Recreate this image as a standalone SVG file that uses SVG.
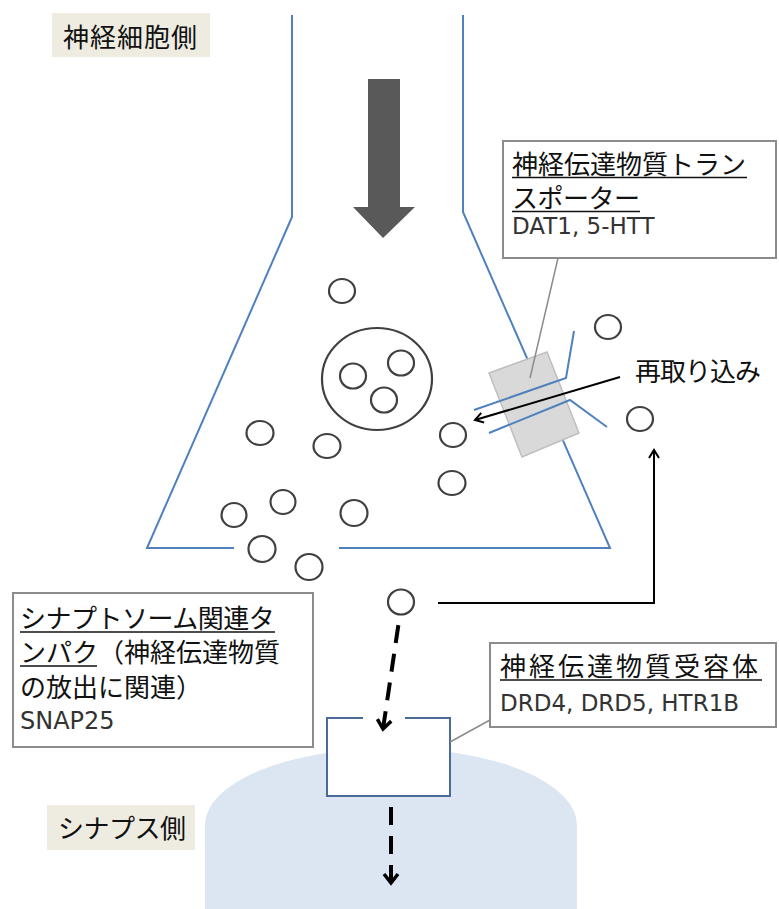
<svg xmlns="http://www.w3.org/2000/svg" width="779" height="909" viewBox="0 0 779 909">
  <style>
    .jp { font-family: "Noto Sans CJK JP", "Noto Sans CJK SC", sans-serif; font-size: 26px; fill: #111; }
    .gene { font-family: "DejaVu Sans", sans-serif; font-size: 23px; fill: #333; }
    .membrane { fill: none; stroke: #4f81bd; stroke-width: 2; }
    .vesicle { fill: none; stroke: #404040; stroke-width: 2.2; }
    .callout { fill: #fff; stroke: #8c8c8c; stroke-width: 2; }
    .leader { fill: none; stroke: #8c8c8c; stroke-width: 1.5; }
    .uline { stroke: #111; stroke-width: 1.6; }
    .side { fill: #eeece1; }
    .flow { fill: none; stroke: #000; stroke-width: 4; stroke-dasharray: 18 11; }
    .thin { fill: none; stroke: #000; stroke-width: 2; }
  </style>
  <defs>
    <marker id="headBold" markerUnits="userSpaceOnUse" markerWidth="24" markerHeight="24" viewBox="-12 -12 24 24" refX="0" refY="0" orient="auto-start-reverse">
      <path d="M-9,-7 L0,0 L-9,7" fill="none" stroke="#000" stroke-width="3.5" stroke-dasharray="none"/>
    </marker>
    <marker id="headThin" markerUnits="userSpaceOnUse" markerWidth="20" markerHeight="20" viewBox="-10 -10 20 20" refX="0" refY="0" orient="auto">
      <path d="M-8,-5 L0,0 L-8,5" fill="none" stroke="#000" stroke-width="2"/>
    </marker>
  </defs>

  <!-- postsynaptic side -->
  <g id="postsynapse">
    <path d="M205,909 L205,825 A186,77 0 0 1 577,825 L577,909 Z" fill="#dce6f2"/>
  </g>

  <!-- presynaptic neuron terminal (flask outline) -->
  <g id="neuron">
    <path class="membrane" d="M292,15 L292,217 L147,548 L234,548"/>
    <path class="membrane" d="M339,548 L610,548 L463,212 L463,15"/>
  </g>

  <!-- transmission direction -->
  <g id="flow-arrow">
    <path d="M368,79 H400 V207 H415 L383,238 L353,207 H368 Z" fill="#595959"/>
  </g>

  <!-- synaptic vesicle with contents -->
  <g id="vesicle-pool">
    <ellipse class="vesicle" cx="377" cy="379" rx="55" ry="51"/>
    <ellipse class="vesicle" cx="353" cy="376" rx="13" ry="12.5"/>
    <ellipse class="vesicle" cx="401" cy="363" rx="13" ry="12.5"/>
    <ellipse class="vesicle" cx="384" cy="400" rx="13" ry="12.5"/>
  </g>

  <!-- free transmitter molecules -->
  <g id="transmitters">
    <ellipse class="vesicle" cx="342" cy="291" rx="13" ry="12"/>
    <ellipse class="vesicle" cx="608" cy="327" rx="13" ry="12"/>
    <ellipse class="vesicle" cx="640" cy="419" rx="13" ry="12"/>
    <ellipse class="vesicle" cx="260" cy="433" rx="13.5" ry="12"/>
    <ellipse class="vesicle" cx="327" cy="446" rx="13.5" ry="12"/>
    <ellipse class="vesicle" cx="453" cy="435" rx="13" ry="12"/>
    <ellipse class="vesicle" cx="452" cy="483" rx="13.5" ry="12"/>
    <ellipse class="vesicle" cx="283" cy="502" rx="12.5" ry="12"/>
    <ellipse class="vesicle" cx="234" cy="515" rx="12.5" ry="12"/>
    <ellipse class="vesicle" cx="354" cy="513" rx="13.5" ry="13"/>
    <ellipse class="vesicle" cx="262" cy="549" rx="13.5" ry="13"/>
    <ellipse class="vesicle" cx="309" cy="567" rx="13.5" ry="13"/>
    <ellipse class="vesicle" cx="401" cy="602" rx="13" ry="12.5"/>
  </g>

  <!-- transporter protein in membrane -->
  <g id="transporter">
    <polygon points="489,373 547,352 579,433 522,457" fill="#d9d9d9" stroke="#bfbfbf" stroke-width="1.5"/>
    <path class="membrane" d="M574,331 L566,378 L474,410"/>
    <path class="membrane" d="M489,433 L570,400 L607,427"/>
  </g>

  <!-- receptor -->
  <g id="receptor">
    <path d="M363,718 H327 V796 H450 V718 H405" fill="#fff" stroke="#4a6b99" stroke-width="2"/>
    <rect x="363" y="716" width="42" height="5" fill="#fff"/>
  </g>

  <!-- connectors -->
  <g id="connectors">
    <path class="flow" d="M383,729 L400,614" marker-start="url(#headBold)"/>
    <path class="flow" d="M391,883 L391,797" marker-start="url(#headBold)"/>
    <path class="thin" d="M620,377 L475,420" marker-end="url(#headThin)"/>
    <path class="thin" d="M438,603 H654 V450" marker-end="url(#headThin)"/>
    <path class="leader" d="M558,258 L530,378"/>
    <path class="leader" d="M450,742 L490,720"/>
  </g>

  <!-- labels -->
  <g id="label-neuron">
    <rect class="side" x="52" y="13" width="158" height="44"/>
    <text class="jp" x="63" y="47" style="letter-spacing:1px">神経細胞側</text>
  </g>

  <g id="label-synapse">
    <rect class="side" x="47" y="805" width="148" height="45"/>
    <text class="jp" x="58" y="838" style="letter-spacing:-0.5px">シナプス側</text>
  </g>

  <g id="label-reuptake">
    <text class="jp" x="635" y="381" style="letter-spacing:-1px">再取り込み</text>
  </g>

  <g id="callout-transporter">
    <rect class="callout" x="503" y="141" width="273" height="117"/>
    <text class="jp" x="512" y="174">神経伝達物質トラン</text>
    <line class="uline" x1="512" y1="177.5" x2="747" y2="177.5"/>
    <text class="jp" x="512" y="208" style="letter-spacing:-0.5px">スポーター</text>
    <line class="uline" x1="512" y1="211.5" x2="640" y2="211.5"/>
    <text class="gene" x="512" y="234">DAT1, 5-HTT</text>
  </g>

  <g id="callout-snap25">
    <rect class="callout" x="13" y="593" width="300" height="154"/>
    <text class="jp" x="20" y="628" style="letter-spacing:-0.5px">シナプトソーム関連タ</text>
    <line class="uline" x1="20" y1="632" x2="275" y2="632"/>
    <text class="jp" x="20" y="662">ンパク（神経伝達物質</text>
    <line class="uline" x1="20" y1="666" x2="97" y2="666"/>
    <text class="jp" x="20" y="697">の放出に関連）</text>
    <text class="gene" x="20" y="729" style="font-size:24px">SNAP25</text>
  </g>

  <g id="callout-receptor">
    <rect class="callout" x="490" y="643" width="286" height="84"/>
    <text class="jp" x="500" y="676" style="letter-spacing:3px">神経伝達物質受容体</text>
    <line class="uline" x1="500" y1="680" x2="762" y2="680"/>
    <text class="gene" x="500" y="711">DRD4, DRD5, HTR1B</text>
  </g>
</svg>
